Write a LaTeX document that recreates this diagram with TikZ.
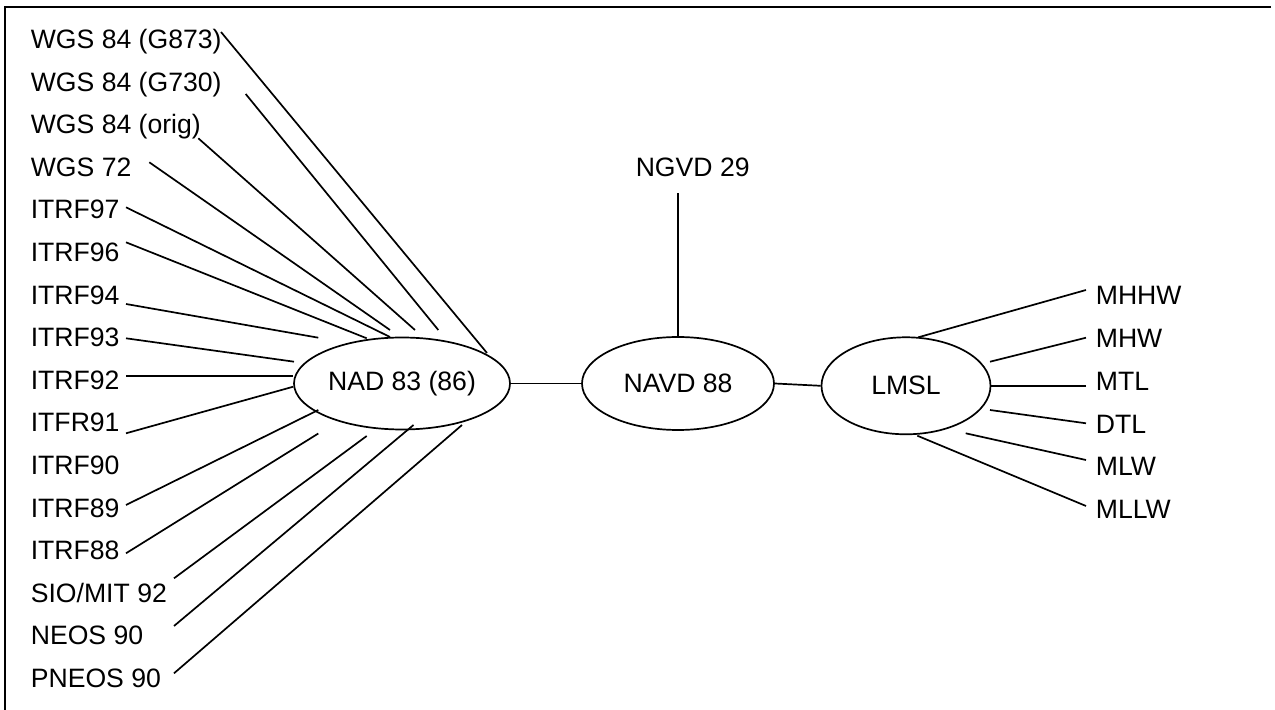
\documentclass[tikz,border=0pt]{standalone}
\usepackage{fontspec}
\setmainfont{Liberation Sans}
\usetikzlibrary{shapes.geometric, positioning}

\begin{document}
\begin{tikzpicture}[x=0.5pt, y=-0.5pt, line width=0.85pt,
		datum/.style={draw, ellipse, inner sep=0pt, font=\fontsize{13.3}{16}\selectfont},
		lbl/.style={inner sep=0pt, anchor=base west, font=\fontsize{13.3}{16}\selectfont}]
	
	\useasboundingbox (0,0) rectangle (1275,710);
	
	% Frame (only top and left edges are visible)
	\draw[line width=1.3pt] (5,710) -- (5,7) -- (1271,7);
	
	% --- 1. THE DATUM ELLIPSES ---
	\node[datum, minimum width=108pt, minimum height=46pt] (nad) at (402,383.5) {NAD 83 (86)};
	\node[datum, minimum width=96pt, minimum height=46.5pt] (navd) at (678,383.5) {NAVD 88};
	\node[datum, minimum width=84.5pt, minimum height=48.5pt] (lmsl) at (906,385.8) {LMSL};
	
	\draw (nad.east) -- (navd.west);
	\draw (navd.east) -- (lmsl.west);
	
	% NGVD 29 above NAVD 88
	\node[lbl, anchor=base] (ngvd) at (692.7,177) {NGVD 29};
	\coordinate (ngvdfoot) at (678,193.3);
	\draw (ngvdfoot) -- (navd.north);
	
	% --- 2. THE HORIZONTAL FRAMES (left column) ---
	\foreach \txt [count=\i] in {WGS 84 (G873), WGS 84 (G730), WGS 84 (orig), WGS 72,
		ITRF97, ITRF96, ITRF94, ITRF93, ITRF92, ITFR91, ITRF90, ITRF89, ITRF88,
		SIO/MIT 92, NEOS 90, PNEOS 90}
	\node[lbl] (h\i) at (30,{39+42.6*(\i-1)+9.5}) {\txt};
	
	% start -> end of each spoke (ITRF90 has none)
	\foreach \i/\sx/\sy/\ex/\ey in {1/221/32/487/353, 2/245.7/94/438.3/330,
		3/198.3/138.3/415/330, 4/149.3/162.3/390/330, 5/126/207.3/390/337,
		6/126/242.3/366.7/338.3, 7/126/304/318.3/337.7, 8/126/338.3/294/361.7,
		9/126/376/293.3/376, 10/126/433.3/293.3/386.7, 12/126/505/318.3/410,
		13/126/553.3/318.3/433.5, 14/174/578.3/366.7/436, 15/174/626/413.5/425,
		16/174/673.3/462/425}
	{
		\coordinate (hs\i) at (\sx,\sy);
		\coordinate (he\i) at (\ex,\ey);
		\draw (hs\i) -- (he\i);
	}
	
	% --- 3. THE TIDAL DATUMS (right column) ---
	\foreach \txt [count=\i] in {MHHW, MHW, MTL, DTL, MLW, MLLW}
	\node[lbl] (t\i) at (1095,{295.5+42.7*(\i-1)+9.5}) {\txt};
	
	\foreach \i/\sx/\sy/\ex/\ey in {1/1086/290/918.3/337.3, 2/1086/337.7/990/361.7,
		3/1086/385.7/990/385.7, 4/1086/423.3/990/410, 5/1086/460/965.7/433.3,
		6/1086/506/917.3/435.7}
	{
		\coordinate (ts\i) at (\sx,\sy);
		\coordinate (te\i) at (\ex,\ey);
		\draw (ts\i) -- (te\i);
	}
	
\end{tikzpicture}
\end{document}
